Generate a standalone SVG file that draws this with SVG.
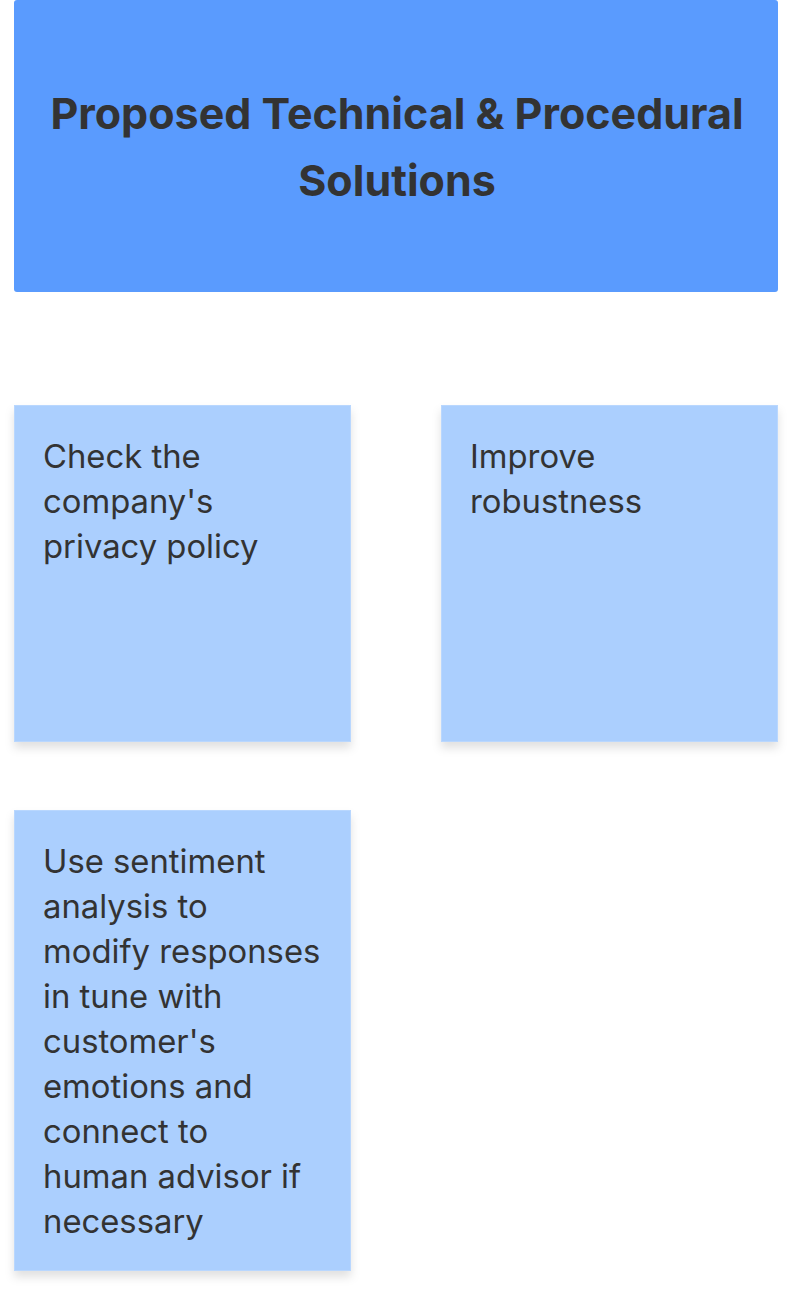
<svg xmlns="http://www.w3.org/2000/svg" width="794" height="1296" viewBox="0 0 794 1296">
<defs>
<filter id="sh" x="-10%" y="-10%" width="120%" height="125%">
<feDropShadow dx="0" dy="6" stdDeviation="5" flood-color="#000" flood-opacity="0.12"/>
</filter>
<style>
.sticky{fill:#abcffe;stroke:#b9d7fe;stroke-width:1}
.t{font-family:Inter,"Noto Sans",sans-serif;font-size:32.8px;fill:#333333}
.h{font-family:Inter,"Noto Sans",sans-serif;font-size:43px;font-weight:700;fill:#333333;text-anchor:middle}
</style>
</defs>
<g id="header">
<rect x="14" y="0" width="764" height="292" rx="3" fill="#5a9bfe"/>
<text class="h" x="397" y="129">Proposed Technical &amp; Procedural</text>
<text class="h" x="397" y="196">Solutions</text>
</g>
<g id="note1">
<rect class="sticky" x="14.5" y="405.5" width="336" height="336" filter="url(#sh)"/>
<text class="t" x="43" y="468">Check the</text>
<text class="t" x="43" y="513">company's</text>
<text class="t" x="43" y="558">privacy policy</text>
</g>
<g id="note2">
<rect class="sticky" x="441.5" y="405.5" width="336" height="336" filter="url(#sh)"/>
<text class="t" x="470" y="468">Improve</text>
<text class="t" x="470" y="513">robustness</text>
</g>
<g id="note3">
<rect class="sticky" x="14.5" y="810.5" width="336" height="460" filter="url(#sh)"/>
<text class="t" x="43" y="873">Use sentiment</text>
<text class="t" x="43" y="918">analysis to</text>
<text class="t" x="43" y="963">modify responses</text>
<text class="t" x="43" y="1008">in tune with</text>
<text class="t" x="43" y="1053">customer's</text>
<text class="t" x="43" y="1098">emotions and</text>
<text class="t" x="43" y="1143">connect to</text>
<text class="t" x="43" y="1188">human advisor if</text>
<text class="t" x="43" y="1233">necessary</text>
</g>
<g id="connectors"/>
</svg>
